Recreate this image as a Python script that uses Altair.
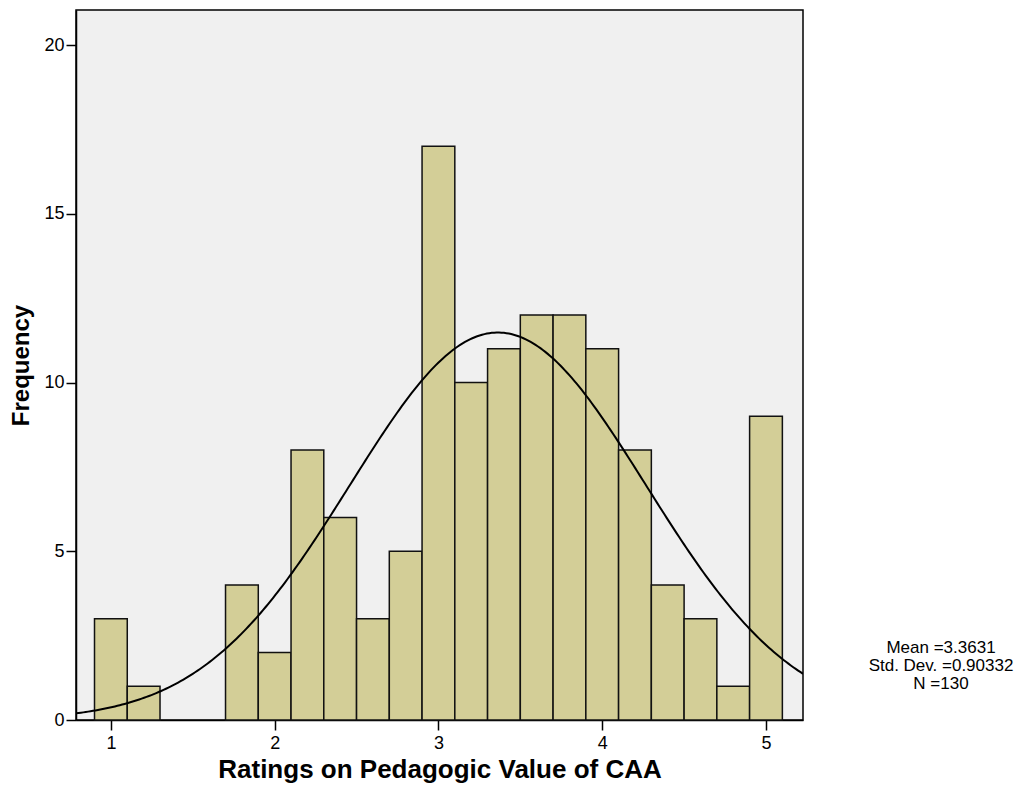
import altair as alt
import numpy as np
import pandas as pd

# Histogram bins (width 0.2) and counts
bin_starts = [0.9, 1.1, 1.3, 1.5, 1.7, 1.9, 2.1, 2.3, 2.5, 2.7, 2.9,
              3.1, 3.3, 3.5, 3.7, 3.9, 4.1, 4.3, 4.5, 4.7, 4.9]
counts = [3, 1, 0, 0, 4, 2, 8, 6, 3, 5, 17,
          10, 11, 12, 12, 11, 8, 4, 3, 1, 9]
bin_width = 0.2

# Summary statistics shown on the chart
mean_val = 3.3631
std_val = 0.90332
n_val = 130

x_ticks = [1, 2, 3, 4, 5]
y_ticks = [0, 5, 10, 15, 20]
x_domain = [0.787, 5.226]
y_domain = [0, 21.04]

bars = pd.DataFrame({
    "start": bin_starts,
    "end": [s + bin_width for s in bin_starts],
    "count": counts,
})
bars = bars[bars["count"] > 0]

# Normal curve implied by the displayed mean / SD / N
xs = np.linspace(x_domain[0], x_domain[1], 300)
ys = n_val * bin_width / (std_val * np.sqrt(2 * np.pi)) * np.exp(-0.5 * ((xs - mean_val) / std_val) ** 2)
curve = pd.DataFrame({"x": xs, "y": ys})

ann = pd.DataFrame({"t": [f"Mean ={mean_val}\nStd. Dev. ={std_val}\nN ={n_val}"]})

FONT = "Liberation Sans"

xscale = alt.Scale(domain=x_domain, nice=False, zero=False)
yscale = alt.Scale(domain=y_domain, nice=False)

xaxis = alt.Axis(values=x_ticks, format="d", title="Ratings on Pedagogic Value of CAA", grid=False,
                 tickSize=10, tickWidth=1.5, tickColor="black", domainColor="black",
                 domainWidth=1.5, labelFontSize=18, labelPadding=4, labelColor="black",
                 titleFontSize=26, titleFontWeight="bold", titleColor="black",
                 titleY=57, titleBaseline="alphabetic", labelFont=FONT, titleFont=FONT)
yaxis = alt.Axis(values=y_ticks, format="d", title="Frequency", grid=False,
                 tickSize=10, tickWidth=1.5, tickColor="black", domainColor="black",
                 domainWidth=1.5, labelFontSize=18, labelPadding=2, labelColor="black",
                 titleFontSize=24, titleFontWeight="bold", titleColor="black",
                 titleX=-48, titleBaseline="alphabetic", labelFont=FONT, titleFont=FONT)

hist = alt.Chart(bars).mark_rect(fill="#D3CE97", stroke="#111111", strokeWidth=1.5).encode(
    x=alt.X("start:Q", scale=xscale, axis=xaxis),
    x2="end:Q",
    y=alt.Y("count:Q", scale=yscale, axis=yaxis),
    y2=alt.datum(0),
)

line = alt.Chart(curve).mark_line(color="black", strokeWidth=2, clip=True).encode(
    x=alt.X("x:Q", scale=xscale),
    y=alt.Y("y:Q", scale=yscale),
)

text = alt.Chart(ann).mark_text(
    lineBreak="\n", lineHeight=18, fontSize=17, font=FONT, align="center",
    baseline="middle", color="black"
).encode(x=alt.value(865), y=alt.value(638), text="t:N")

chart = alt.layer(hist, line, text).properties(
    width=727, height=710,
    background="white",
    autosize=alt.AutoSizeParams(type="none"),
    padding={"left": 68, "top": 2, "right": 215, "bottom": 70},
).configure_view(
    fill="#F0F0F0", stroke="black", strokeWidth=1.5
)

chart.save("out.html", embed_options={"renderer": "svg", "actions": False})
